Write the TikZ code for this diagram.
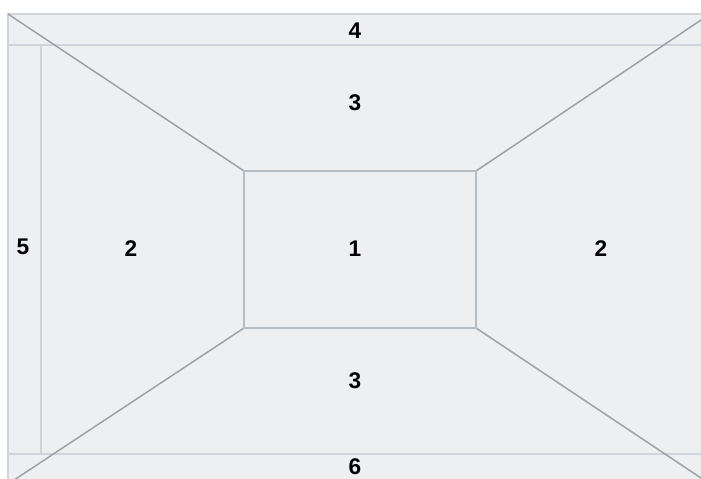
\documentclass[tikz,border=0pt]{standalone}
\usepackage{fontspec}
\setmainfont{Liberation Sans}
\usetikzlibrary{positioning}
\definecolor{paneFill}{HTML}{EEEFF1}
\definecolor{edgeGrey}{HTML}{CFD5DA}
\definecolor{diagGrey}{HTML}{99A1A8}
\definecolor{innerGrey}{HTML}{B5BDC4}
\tikzset{
  pane/.style={fill=paneFill, draw=edgeGrey, line width=1.2pt},
  bandline/.style={draw=edgeGrey, line width=1.2pt},
  diag/.style={draw=diagGrey, line width=1.1pt},
  innerbox/.style={draw=innerGrey, line width=1pt},
  zone/.style={font=\bfseries\fontsize{17}{19}\selectfont, inner sep=0pt}
}

\begin{document}
\begin{tikzpicture}[x=0.75pt, y=-0.75pt]
\useasboundingbox (0,0) rectangle (701,479);
\clip (0,0) rectangle (701,479);
% outer frame and inner panel corners
\coordinate (otl) at (8,14);
\coordinate (otr) at (710,14);
\coordinate (obl) at (8,484);
\coordinate (obr) at (710,484);
\coordinate (itl) at (244,171);
\coordinate (itr) at (476,171);
\coordinate (ibl) at (244,328);
\coordinate (ibr) at (476,328);
\coordinate (topL) at (8,45);
\coordinate (topR) at (710,45);
\coordinate (botL) at (8,454);
\coordinate (botR) at (710,454);
\coordinate (stripT) at (41,45);
\coordinate (stripB) at (41,454);

\draw[pane] (otl) rectangle (obr);
\draw[bandline] (topL) -- (topR);
\draw[bandline] (botL) -- (botR);
\draw[bandline] (stripT) -- (stripB);

\draw[diag] (otl) -- (itl);
\draw[diag] (otr) -- (itr);
\draw[diag] (obl) -- (ibl);
\draw[diag] (obr) -- (ibr);
\draw[innerbox] (itl) rectangle (ibr);

% zone numbers
\node[zone] (centre) at (355,249) {1};
\node[zone] (leftwing) at (131,249) {2};
\node[zone] (rightwing) at (601,249) {2};
\node[zone] (upper) at (355,103) {3};
\node[zone] (lower) at (355,381) {3};
\node[zone] (topband) at (355,31) {4};
\node[zone] (leftstrip) at (23,247) {5};
\node[zone] (botband) at (355,467) {6};
\end{tikzpicture}
\end{document}
